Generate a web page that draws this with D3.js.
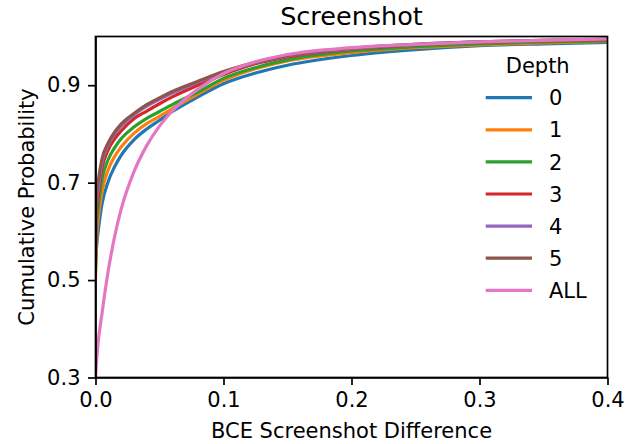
<!DOCTYPE html>
<html lang="en">
<head>
  <meta charset="UTF-8">
  <title>Screenshot</title>
  <script src="https://d3js.org/d3.v7.min.js"></script>
  <style>
    body { margin: 0; background: white; font-family: "DejaVu Sans", sans-serif; }
    svg text { font-family: "DejaVu Sans", sans-serif; fill: black; }
    .axis text { font-size: 21px; }
    .axis path, .axis line { stroke: black; stroke-width: 1.7px; }
  </style>
</head>
<body>
  <svg id="chart" width="641" height="444"></svg>

  <script>
    // BCE screenshot difference grid (shared x positions)
    const xValues = [0, 0.001, 0.002, 0.005, 0.01, 0.015, 0.02, 0.03, 0.04, 0.05,
                     0.06, 0.08, 0.1, 0.125, 0.15, 0.2, 0.25, 0.3, 0.35, 0.4];

    const depth0 = [0.53, 0.575, 0.598, 0.655, 0.703, 0.733, 0.756, 0.788, 0.810, 0.828,
                    0.846, 0.876, 0.903, 0.925, 0.941, 0.961, 0.973, 0.981, 0.985, 0.988];
    const depth1 = [0.505, 0.59, 0.623, 0.680, 0.727, 0.754, 0.773, 0.801, 0.821, 0.836,
                    0.852, 0.882, 0.910, 0.934, 0.950, 0.967, 0.977, 0.983, 0.987, 0.990];
    const depth2 = [0.52, 0.62, 0.647, 0.705, 0.748, 0.772, 0.790, 0.814, 0.832, 0.846,
                    0.860, 0.886, 0.914, 0.936, 0.952, 0.970, 0.979, 0.985, 0.989, 0.991];
    const depth3 = [0.545, 0.645, 0.671, 0.728, 0.768, 0.790, 0.806, 0.831, 0.847, 0.862,
                    0.876, 0.900, 0.922, 0.944, 0.958, 0.974, 0.983, 0.988, 0.991, 0.993];
    const depth4 = [0.56, 0.665, 0.685, 0.740, 0.777, 0.800, 0.816, 0.839, 0.857, 0.871,
                    0.884, 0.906, 0.926, 0.946, 0.960, 0.975, 0.984, 0.989, 0.992, 0.994];
    const depth5 = [0.56, 0.675, 0.700, 0.748, 0.782, 0.804, 0.820, 0.842, 0.860, 0.874,
                    0.887, 0.908, 0.928, 0.947, 0.961, 0.976, 0.984, 0.989, 0.992, 0.994];
    const depthAll = [0.3, 0.34, 0.37, 0.43, 0.52, 0.59, 0.645, 0.722, 0.776, 0.816,
                      0.847, 0.892, 0.924, 0.948, 0.963, 0.977, 0.984, 0.989, 0.992, 0.995];

    const seriesNames = ["0", "1", "2", "3", "4", "5", "ALL"];
    const seriesValues = [depth0, depth1, depth2, depth3, depth4, depth5, depthAll];
    const colors = ["#1f77b4", "#ff7f0e", "#2ca02c", "#d62728", "#9467bd", "#8c564b", "#e377c2"];

    const xTicks = [0, 0.1, 0.2, 0.3, 0.4];
    const yTicks = [0.3, 0.5, 0.7, 0.9];

    const svg = d3.select("#chart");
    const margin = { top: 36.5, right: 33.5, bottom: 66.5, left: 95.5 };
    const width = +svg.attr("width") - margin.left - margin.right;
    const height = +svg.attr("height") - margin.top - margin.bottom;
    const g = svg.append("g").attr("transform", `translate(${margin.left},${margin.top})`);

    const x = d3.scaleLinear().domain([0, 0.4]).range([0, width]);
    const y = d3.scaleLinear().domain([0.3, 1.0]).range([height, 0]);

    g.append("clipPath").attr("id", "clip")
      .append("rect").attr("width", width).attr("height", height);

    const line = d3.line()
      .x((d, i) => x(xValues[i]))
      .y(d => y(d))
      .curve(d3.curveMonotoneX);

    seriesValues.forEach((vals, i) => {
      g.append("path")
        .attr("clip-path", "url(#clip)")
        .attr("d", line(vals))
        .attr("fill", "none")
        .attr("stroke", colors[i])
        .attr("stroke-width", 3.2)
        .attr("stroke-linejoin", "round")
        .attr("stroke-linecap", "square");
    });

    // axes
    g.append("g")
      .attr("class", "axis")
      .attr("transform", `translate(0,${height})`)
      .call(d3.axisBottom(x).tickValues(xTicks).tickFormat(d3.format(".1f"))
        .tickSize(7.5).tickPadding(7.5).tickSizeOuter(0));

    g.append("g")
      .attr("class", "axis")
      .call(d3.axisLeft(y).tickValues(yTicks).tickFormat(d3.format(".1f"))
        .tickSize(7.5).tickPadding(7.5).tickSizeOuter(0));

    // frame
    g.append("rect")
      .attr("width", width).attr("height", height)
      .attr("fill", "none").attr("stroke", "black").attr("stroke-width", 1.7);

    // labels
    svg.append("text")
      .attr("x", margin.left + width / 2).attr("y", 25)
      .attr("text-anchor", "middle").style("font-size", "25.5px")
      .text("Screenshot");

    svg.append("text")
      .attr("x", margin.left + width / 2).attr("y", 438)
      .attr("text-anchor", "middle").style("font-size", "21px")
      .text("BCE Screenshot Difference");

    svg.append("text")
      .attr("transform", `translate(33.5,${margin.top + height / 2}) rotate(-90)`)
      .attr("text-anchor", "middle").style("font-size", "21px")
      .text("Cumulative Probability");

    // legend
    const legend = svg.append("g").attr("transform", "translate(485.7,97.7)");
    legend.append("text")
      .attr("x", 52).attr("y", -24.4)
      .attr("text-anchor", "middle").style("font-size", "21px")
      .text("Depth");

    seriesNames.forEach((name, i) => {
      const row = legend.append("g").attr("transform", `translate(0,${i * 32.1})`);
      row.append("line")
        .attr("x1", 0).attr("x2", 46.3)
        .attr("stroke", colors[i]).attr("stroke-width", 3.2);
      row.append("text")
        .attr("x", 63.3).attr("y", 7.6)
        .style("font-size", "21px")
        .text(name);
    });
  </script>
</body>
</html>
